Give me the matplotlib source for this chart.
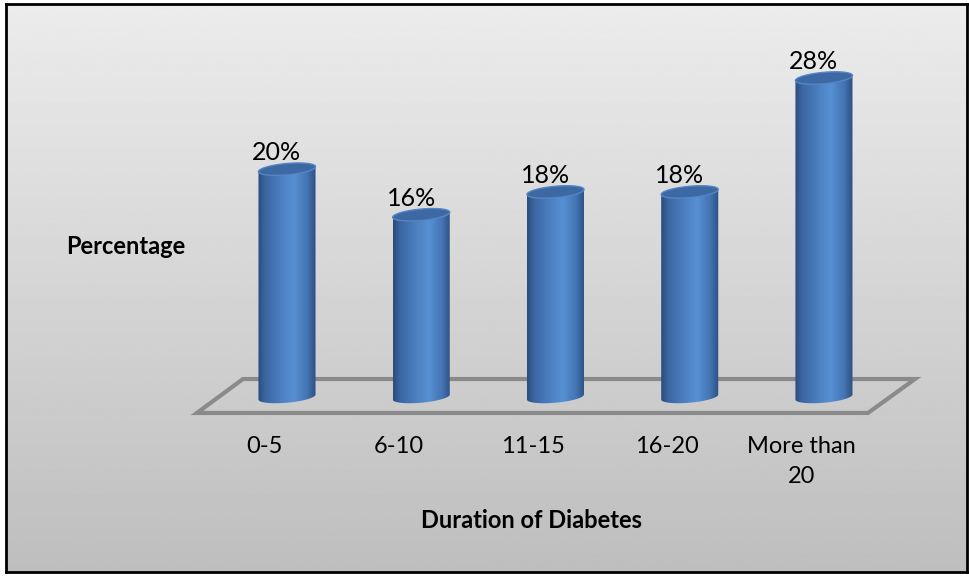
import numpy as np
import matplotlib.pyplot as plt
from matplotlib.colors import LinearSegmentedColormap
from matplotlib.patches import Polygon

plt.rcParams["font.family"] = ["Lato", "DejaVu Sans"]

durations = ["0-5", "6-10", "11-15", "16-20", "More than\n20"]
percentages = [20, 16, 18, 18, 28]

fig = plt.figure(figsize=(9.7, 5.76), dpi=100)
fig.patch.set_facecolor("white")

# framed chart area with a soft grey vertical gradient
bg = fig.add_axes([6 / 970, 4 / 576, 961 / 970, 568 / 576])
grad = np.linspace(0.925, 0.745, 256).reshape(-1, 1)
bg.imshow(grad, cmap="gray", vmin=0, vmax=1, aspect="auto", extent=[0, 1, 0, 1])
bg.set_xticks([])
bg.set_yticks([])
for sp in bg.spines.values():
    sp.set_linewidth(2)
    sp.set_color("black")

ax = fig.add_axes([0, 0, 1, 1])
ax.patch.set_alpha(0)
ax.axis("off")

body_cmap = LinearSegmentedColormap.from_list(
    "cyl",
    [(0.0, "#2b4c7c"), (0.12, "#3b66a2"), (0.45, "#4f84c6"),
     (0.62, "#5690d3"), (0.85, "#4474b3"), (1.0, "#2d5082")],
)

W = 0.425   # cylinder width
B = 0.5     # ellipse half height
S = 0.22    # tilt of the ellipses
t = np.linspace(0, 2 * np.pi, 120)


def ellipse_pts(xc, y0, ts):
    return np.column_stack([xc + W / 2 * np.cos(ts), y0 + B * np.sin(ts) + S * np.cos(ts)])


def cylinder(xc, h):
    front = ellipse_pts(xc, 0, np.linspace(np.pi, 2 * np.pi, 60))
    back_top = ellipse_pts(xc, h, np.linspace(0, np.pi, 60))
    body = Polygon(np.vstack([front, back_top]), closed=True, facecolor="none",
                   edgecolor="none", zorder=3)
    ax.add_patch(body)
    img = ax.imshow(np.linspace(0, 1, 200).reshape(1, -1), cmap=body_cmap,
                    extent=[xc - W / 2, xc + W / 2, -B - S, h + B + S],
                    aspect="auto", zorder=3)
    img.set_clip_path(body)
    cap = Polygon(ellipse_pts(xc, h, t), closed=True, facecolor="#3c68a4",
                  edgecolor="#5586c4", linewidth=1, zorder=4)
    ax.add_patch(cap)


# floor of the 3D plot
floor = Polygon([(-0.328, 1.58), (4.678, 1.58), (4.328, -1.40), (-0.671, -1.40)],
                closed=True, facecolor="none", edgecolor="#8a8a8a", linewidth=3, zorder=2)
ax.add_patch(floor)

for i, (lab, v) in enumerate(zip(durations, percentages)):
    cylinder(i, v)
    ax.text(i - 0.075, v + 1.45, f"{v}%", ha="center", va="center", fontsize=18, zorder=5)
    ax.text(i - 0.17, -3.4, lab, ha="center", va="top", fontsize=17, linespacing=1.55)

ax.text(-1.2, 13.17, "Percentage", ha="center", va="center", fontsize=17, fontweight="bold")
ax.text(1.825, -10.8, "Duration of Diabetes", ha="center", va="center", fontsize=17,
        fontweight="bold")

ax.set_xlim(-2.138, 5.088)
ax.set_ylim(-15.71, 34.85)

fig.savefig("out.png", dpi=100)
